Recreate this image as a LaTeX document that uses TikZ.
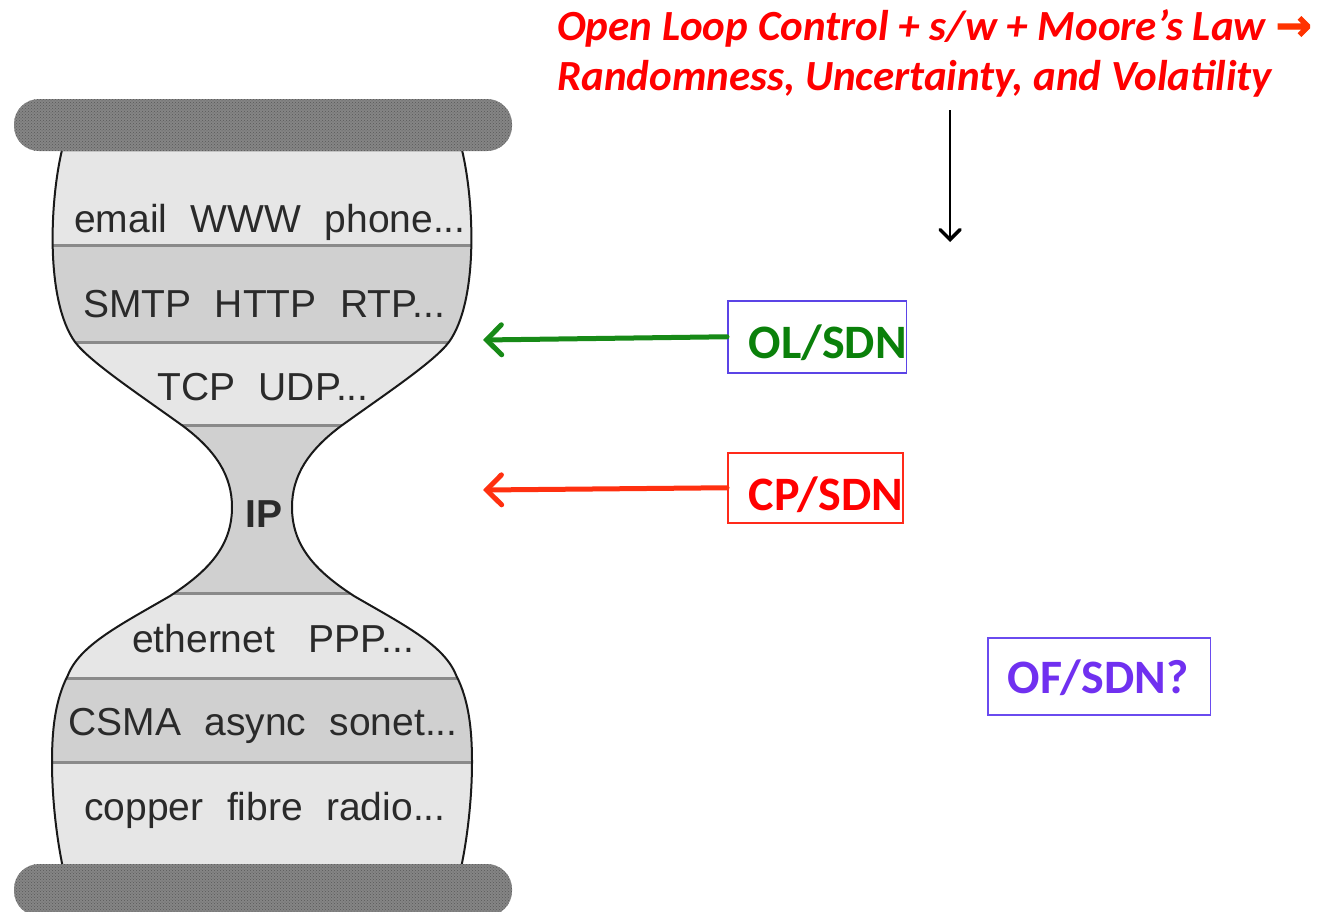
\documentclass[tikz,border=0pt]{standalone}
\usepackage{fontspec}
\setmainfont{Carlito}
\newfontfamily\hgfont{Liberation Sans}
\newfontfamily\symfont[FakeBold=2.5]{DejaVu Sans}
\usetikzlibrary{arrows.meta,patterns}
\definecolor{barfill}{HTML}{858585}
\definecolor{bardots}{HTML}{585858}
\definecolor{lightband}{HTML}{E6E6E6}
\definecolor{darkband}{HTML}{D0D0D0}
\definecolor{bandline}{HTML}{8A8A8A}
\definecolor{hgtext}{HTML}{2A2A2A}
\definecolor{titlered}{HTML}{FF0000}
\definecolor{titlearrow}{HTML}{FF3300}
\definecolor{olgreen}{HTML}{0A800A}
\definecolor{olarrow}{HTML}{178A17}
\definecolor{olborder}{HTML}{5B44E6}
\definecolor{cpred}{HTML}{FF0000}
\definecolor{cpborder}{HTML}{FF2A1A}
\definecolor{cparrow}{HTML}{FF3010}
\definecolor{ofviolet}{HTML}{7030F0}
\definecolor{ofborder}{HTML}{6A4BEF}
\tikzset{
  bar/.style={fill=barfill, rounded corners=25pt},
  bardot/.style={pattern=crosshatch dots, pattern color=bardots, rounded corners=25pt},
  layerline/.style={draw=bandline, line width=3pt},
  outline/.style={draw=black!90, line width=2pt},
  hglabel/.style={anchor=base, inner sep=0pt, text=hgtext, font=\hgfont\fontsize{39}{44}\selectfont},
  titletext/.style={anchor=base west, inner sep=0pt, text=titlered, font=\bfseries\itshape\fontsize{43}{50}\selectfont},
  sdnbox/.style={draw, line width=1.5pt, inner sep=0pt, anchor=north west, font=\bfseries\fontsize{48}{48}\selectfont},
  sdnarrow/.style={line width=5pt, line cap=round, -{Straight Barb[length=15pt,width=30pt,line cap=round]}},
  downarrow/.style={line width=1.5pt, -{Straight Barb[length=10pt,width=20pt,line width=3.5pt,line cap=round]}}
}
\newcommand\hgpath{(62,150) .. controls (50,200) and (45,300) .. (75,342)
  .. controls (90,362) and (140,395) .. (183,426)
  .. controls (215,450) and (232,475) .. (232,507)
  .. controls (232,545) and (210,570) .. (170,596)
  .. controls (120,625) and (80,645) .. (68,675)
  .. controls (55,700) and (52,730) .. (52,762)
  .. controls (52,800) and (57,840) .. (63,868)
  -- (461,868)
  .. controls (467,840) and (472,800) .. (472,762)
  .. controls (472,730) and (469,700) .. (456,675)
  .. controls (444,645) and (404,625) .. (354,596)
  .. controls (314,570) and (292,545) .. (292,507)
  .. controls (292,475) and (309,450) .. (341,426)
  .. controls (384,395) and (434,362) .. (449,342)
  .. controls (479,300) and (474,200) .. (462,150) -- cycle}
\newcommand\wgap{\hspace{0.6em}}
\begin{document}
\begin{tikzpicture}[x=1pt,y=-1pt]
\useasboundingbox (0,0) rectangle (1322,911);
\clip (0,0) rectangle (1322,911);
\fill[white] (0,0) rectangle (1322,911);
% hourglass bands
\begin{scope}
  \clip \hgpath;
  \fill[lightband] (0,140) rectangle (524,245);
  \fill[darkband]  (0,245) rectangle (524,342);
  \fill[lightband] (0,342) rectangle (524,425);
  \fill[darkband]  (0,425) rectangle (524,593);
  \fill[lightband] (0,593) rectangle (524,678);
  \fill[darkband]  (0,678) rectangle (524,762);
  \fill[lightband] (0,762) rectangle (524,880);
  \draw[layerline] (0,245) -- (524,245);
  \draw[layerline] (0,342) -- (524,342);
  \draw[layerline] (0,425) -- (524,425);
  \draw[layerline] (0,593) -- (524,593);
  \draw[layerline] (0,678) -- (524,678);
  \draw[layerline] (0,762) -- (524,762);
\end{scope}
\draw[outline] \hgpath;
% bars
\path[bar] (14,99) rectangle (512,151);
\path[bardot] (14,99) rectangle (512,151);
\path[bar] (14,864) rectangle (512,916);
\path[bardot] (14,864) rectangle (512,916);
% layer labels
\node[hglabel] (l1) at (270,232) {email\wgap WWW\wgap phone...};
\node[hglabel] (l2) at (264,317) {SMTP\wgap HTTP\wgap RTP...};
\node[hglabel] (l3) at (263,400) {TCP\wgap UDP...};
\node[hglabel, font=\hgfont\bfseries\fontsize{39}{44}\selectfont] (l4) at (264,527) {IP};
\node[hglabel] (l5) at (273,652) {ethernet\hspace{0.85em}PPP...};
\node[hglabel] (l6) at (263,735) {CSMA\wgap async\wgap sonet...};
\node[hglabel] (l7) at (265,820) {copper\wgap fibre\wgap radio...};
% title
\node[titletext] (title1) at (557,40) {Open Loop Control + s/w + Moore’s Law {\symfont\color{titlearrow}→}};
\node[titletext] (title2) at (557,90) {Randomness, Uncertainty, and Volatility};
\coordinate (atop) at (950,110);
\coordinate (aend) at (950,242);
\draw[downarrow] (atop) -- (aend);
% SDN boxes
\node[sdnbox, draw=olborder, text=olgreen, text height=58pt, text depth=14pt] (ol) at (727,300) {\kern21pt OL/SDN};
\node[sdnbox, draw=cpborder, text=cpred, text height=58pt, text depth=12pt] (cp) at (727,452) {\kern21pt CP/SDN};
\node[sdnbox, draw=ofborder, text=ofviolet, text height=56pt, text depth=21pt] (of) at (987,637) {\kern20pt OF/SDN?\kern22pt};
\coordinate (oltip) at (483,340);
\coordinate (cptip) at (483,490);
\draw[sdnarrow, olarrow] (ol.west) -- (oltip);
\draw[sdnarrow, cparrow] (cp.west) -- (cptip);
\end{tikzpicture}
\end{document}
